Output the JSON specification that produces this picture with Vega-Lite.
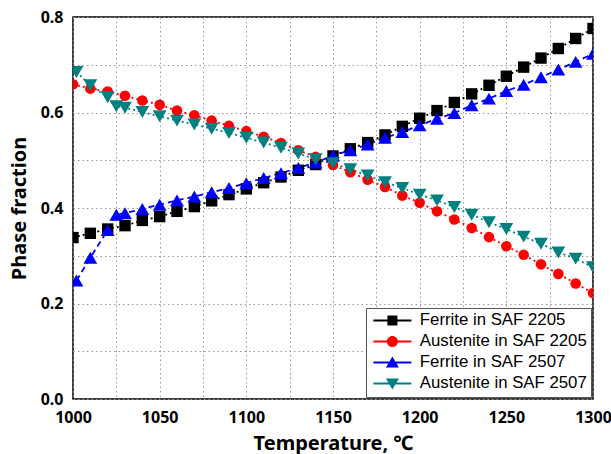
{
 "$schema": "https://vega.github.io/schema/vega-lite/v6.json",
 "width": 520, "height": 382,
 "autosize": {"type": "none"},
 "padding": {"left": 73, "top": 17, "right": 18, "bottom": 55},
 "background": "white",
 "config": {"view": {"stroke": "#000", "strokeWidth": 1.5}},
 "datasets": {
  "d": [
   {"s":"Ferrite in SAF 2205","T":1000,"v":0.338},{"s":"Ferrite in SAF 2205","T":1010,"v":0.347},{"s":"Ferrite in SAF 2205","T":1020,"v":0.356},{"s":"Ferrite in SAF 2205","T":1030,"v":0.363},{"s":"Ferrite in SAF 2205","T":1040,"v":0.374},{"s":"Ferrite in SAF 2205","T":1050,"v":0.382},{"s":"Ferrite in SAF 2205","T":1060,"v":0.393},{"s":"Ferrite in SAF 2205","T":1070,"v":0.403},{"s":"Ferrite in SAF 2205","T":1080,"v":0.415},{"s":"Ferrite in SAF 2205","T":1090,"v":0.428},{"s":"Ferrite in SAF 2205","T":1100,"v":0.440},{"s":"Ferrite in SAF 2205","T":1110,"v":0.453},{"s":"Ferrite in SAF 2205","T":1120,"v":0.465},{"s":"Ferrite in SAF 2205","T":1130,"v":0.479},{"s":"Ferrite in SAF 2205","T":1140,"v":0.491},{"s":"Ferrite in SAF 2205","T":1150,"v":0.509},{"s":"Ferrite in SAF 2205","T":1160,"v":0.524},{"s":"Ferrite in SAF 2205","T":1170,"v":0.537},{"s":"Ferrite in SAF 2205","T":1180,"v":0.553},{"s":"Ferrite in SAF 2205","T":1190,"v":0.571},{"s":"Ferrite in SAF 2205","T":1200,"v":0.588},{"s":"Ferrite in SAF 2205","T":1210,"v":0.604},{"s":"Ferrite in SAF 2205","T":1220,"v":0.621},{"s":"Ferrite in SAF 2205","T":1230,"v":0.639},{"s":"Ferrite in SAF 2205","T":1240,"v":0.657},{"s":"Ferrite in SAF 2205","T":1250,"v":0.676},{"s":"Ferrite in SAF 2205","T":1260,"v":0.695},{"s":"Ferrite in SAF 2205","T":1270,"v":0.714},{"s":"Ferrite in SAF 2205","T":1280,"v":0.734},{"s":"Ferrite in SAF 2205","T":1290,"v":0.755},{"s":"Ferrite in SAF 2205","T":1300,"v":0.776},
   {"s":"Austenite in SAF 2205","T":1000,"v":0.659},{"s":"Austenite in SAF 2205","T":1010,"v":0.650},{"s":"Austenite in SAF 2205","T":1020,"v":0.644},{"s":"Austenite in SAF 2205","T":1030,"v":0.635},{"s":"Austenite in SAF 2205","T":1040,"v":0.625},{"s":"Austenite in SAF 2205","T":1050,"v":0.616},{"s":"Austenite in SAF 2205","T":1060,"v":0.604},{"s":"Austenite in SAF 2205","T":1070,"v":0.594},{"s":"Austenite in SAF 2205","T":1080,"v":0.583},{"s":"Austenite in SAF 2205","T":1090,"v":0.572},{"s":"Austenite in SAF 2205","T":1100,"v":0.561},{"s":"Austenite in SAF 2205","T":1110,"v":0.549},{"s":"Austenite in SAF 2205","T":1120,"v":0.536},{"s":"Austenite in SAF 2205","T":1130,"v":0.521},{"s":"Austenite in SAF 2205","T":1140,"v":0.507},{"s":"Austenite in SAF 2205","T":1150,"v":0.490},{"s":"Austenite in SAF 2205","T":1160,"v":0.475},{"s":"Austenite in SAF 2205","T":1170,"v":0.459},{"s":"Austenite in SAF 2205","T":1180,"v":0.444},{"s":"Austenite in SAF 2205","T":1190,"v":0.426},{"s":"Austenite in SAF 2205","T":1200,"v":0.411},{"s":"Austenite in SAF 2205","T":1210,"v":0.393},{"s":"Austenite in SAF 2205","T":1220,"v":0.376},{"s":"Austenite in SAF 2205","T":1230,"v":0.358},{"s":"Austenite in SAF 2205","T":1240,"v":0.339},{"s":"Austenite in SAF 2205","T":1250,"v":0.320},{"s":"Austenite in SAF 2205","T":1260,"v":0.302},{"s":"Austenite in SAF 2205","T":1270,"v":0.282},{"s":"Austenite in SAF 2205","T":1280,"v":0.262},{"s":"Austenite in SAF 2205","T":1290,"v":0.242},{"s":"Austenite in SAF 2205","T":1300,"v":0.222},
   {"s":"Ferrite in SAF 2507","T":1002,"v":0.248},{"s":"Ferrite in SAF 2507","T":1010,"v":0.296},{"s":"Ferrite in SAF 2507","T":1020,"v":0.354},{"s":"Ferrite in SAF 2507","T":1025,"v":0.386},{"s":"Ferrite in SAF 2507","T":1030,"v":0.389},{"s":"Ferrite in SAF 2507","T":1040,"v":0.398},{"s":"Ferrite in SAF 2507","T":1050,"v":0.407},{"s":"Ferrite in SAF 2507","T":1060,"v":0.416},{"s":"Ferrite in SAF 2507","T":1070,"v":0.424},{"s":"Ferrite in SAF 2507","T":1080,"v":0.433},{"s":"Ferrite in SAF 2507","T":1090,"v":0.442},{"s":"Ferrite in SAF 2507","T":1100,"v":0.452},{"s":"Ferrite in SAF 2507","T":1110,"v":0.463},{"s":"Ferrite in SAF 2507","T":1120,"v":0.473},{"s":"Ferrite in SAF 2507","T":1130,"v":0.484},{"s":"Ferrite in SAF 2507","T":1140,"v":0.495},{"s":"Ferrite in SAF 2507","T":1150,"v":0.510},{"s":"Ferrite in SAF 2507","T":1160,"v":0.521},{"s":"Ferrite in SAF 2507","T":1170,"v":0.533},{"s":"Ferrite in SAF 2507","T":1180,"v":0.547},{"s":"Ferrite in SAF 2507","T":1190,"v":0.559},{"s":"Ferrite in SAF 2507","T":1200,"v":0.573},{"s":"Ferrite in SAF 2507","T":1210,"v":0.587},{"s":"Ferrite in SAF 2507","T":1220,"v":0.599},{"s":"Ferrite in SAF 2507","T":1230,"v":0.615},{"s":"Ferrite in SAF 2507","T":1240,"v":0.629},{"s":"Ferrite in SAF 2507","T":1250,"v":0.645},{"s":"Ferrite in SAF 2507","T":1260,"v":0.658},{"s":"Ferrite in SAF 2507","T":1270,"v":0.674},{"s":"Ferrite in SAF 2507","T":1280,"v":0.690},{"s":"Ferrite in SAF 2507","T":1290,"v":0.706},{"s":"Ferrite in SAF 2507","T":1300,"v":0.723},
   {"s":"Austenite in SAF 2507","T":1002,"v":0.685},{"s":"Austenite in SAF 2507","T":1010,"v":0.657},{"s":"Austenite in SAF 2507","T":1020,"v":0.632},{"s":"Austenite in SAF 2507","T":1025,"v":0.613},{"s":"Austenite in SAF 2507","T":1030,"v":0.610},{"s":"Austenite in SAF 2507","T":1040,"v":0.601},{"s":"Austenite in SAF 2507","T":1050,"v":0.592},{"s":"Austenite in SAF 2507","T":1060,"v":0.583},{"s":"Austenite in SAF 2507","T":1070,"v":0.575},{"s":"Austenite in SAF 2507","T":1080,"v":0.566},{"s":"Austenite in SAF 2507","T":1090,"v":0.557},{"s":"Austenite in SAF 2507","T":1100,"v":0.547},{"s":"Austenite in SAF 2507","T":1110,"v":0.537},{"s":"Austenite in SAF 2507","T":1120,"v":0.526},{"s":"Austenite in SAF 2507","T":1130,"v":0.514},{"s":"Austenite in SAF 2507","T":1140,"v":0.502},{"s":"Austenite in SAF 2507","T":1150,"v":0.494},{"s":"Austenite in SAF 2507","T":1160,"v":0.481},{"s":"Austenite in SAF 2507","T":1170,"v":0.468},{"s":"Austenite in SAF 2507","T":1180,"v":0.454},{"s":"Austenite in SAF 2507","T":1190,"v":0.442},{"s":"Austenite in SAF 2507","T":1200,"v":0.428},{"s":"Austenite in SAF 2507","T":1210,"v":0.416},{"s":"Austenite in SAF 2507","T":1220,"v":0.402},{"s":"Austenite in SAF 2507","T":1230,"v":0.386},{"s":"Austenite in SAF 2507","T":1240,"v":0.370},{"s":"Austenite in SAF 2507","T":1250,"v":0.356},{"s":"Austenite in SAF 2507","T":1260,"v":0.340},{"s":"Austenite in SAF 2507","T":1270,"v":0.325},{"s":"Austenite in SAF 2507","T":1280,"v":0.307},{"s":"Austenite in SAF 2507","T":1290,"v":0.294},{"s":"Austenite in SAF 2507","T":1300,"v":0.276}
  ]
 },
 "data": {"name": "d"},
 "encoding": {
  "x": {"field": "T", "type": "quantitative",
   "scale": {"domain": [1000, 1300], "nice": false, "zero": false},
   "axis": {"values": [1000,1025,1050,1075,1100,1125,1150,1175,1200,1225,1250,1275,1300],
    "labelExpr": "datum.value % 50 === 0 ? format(datum.value, 'd') : ''",
    "ticks": false, "domain": false, "grid": true, "gridColor": "#999", "gridDash": [1.5, 3], "gridWidth": 1,
    "labelFont": "Noto Sans", "labelFontWeight": "bold", "labelFontSize": 16, "labelColor": "#000", "labelPadding": 10,
    "labelFlush": false, "labelOverlap": false,
    "title": "Temperature, ℃", "titleFont": "Noto Sans", "titleFontSize": 20, "titleFontWeight": "bold", "titleColor": "#000", "titlePadding": 8}},
  "y": {"field": "v", "type": "quantitative",
   "scale": {"domain": [0, 0.8], "nice": false},
   "axis": {"values": [0,0.1,0.2,0.3,0.4,0.5,0.6,0.7,0.8],
    "labelExpr": "round(datum.value*10) % 2 === 0 ? format(datum.value, '.1f') : ''",
    "ticks": false, "domain": false, "grid": true, "gridColor": "#999", "gridDash": [1.5, 3], "gridWidth": 1,
    "labelFont": "Noto Sans", "labelFontWeight": "bold", "labelFontSize": 16, "labelColor": "#000", "labelPadding": 10,
    "labelFlush": false, "labelOverlap": false,
    "title": "Phase fraction", "titleFont": "Noto Sans", "titleFontSize": 20, "titleFontWeight": "bold", "titleColor": "#000", "titlePadding": 11}},
  "color": {"field": "s", "type": "nominal",
   "scale": {"domain": ["Ferrite in SAF 2205","Austenite in SAF 2205","Ferrite in SAF 2507","Austenite in SAF 2507"],
             "range": ["#000000","#ff0000","#0000ff","#008080"]},
   "legend": {"title": null, "orient": "bottom-right", "offset": 2, "padding": 4,
    "strokeColor": "#555", "fillColor": "white", "cornerRadius": 0,
    "labelFont": "Liberation Sans", "labelFontSize": 16.8, "labelColor": "#000", "labelLimit": 300,
    "symbolSize": 100, "symbolOffset": 14, "labelOffset": 19, "rowPadding": 3, "symbolStrokeWidth": 0,
    "encode": {"symbols": {"update": {
      "shape": {"signal": "datum.value === 'Ferrite in SAF 2205' ? 'M-3.8,-0.2H3.8V0.2H-3.8Z M-1,-1H1V1H-1Z' : datum.value === 'Austenite in SAF 2205' ? 'M-3.8,-0.2H3.8V0.2H-3.8Z M-1.1,0A1.1,1.1 0 1,1 1.1,0A1.1,1.1 0 1,1 -1.1,0Z' : datum.value === 'Ferrite in SAF 2507' ? 'M-3.8,-0.2H3.8V0.2H-3.8Z M0,-1.2L1.3,1L-1.3,1Z' : 'M-3.8,-0.2H3.8V0.2H-3.8Z M-1.3,-1L1.3,-1L0,1.2Z'"},
      "size": {"value": 100},
      "fill": {"scale": "color", "field": "value"},
      "fillOpacity": {"value": 1},
      "strokeWidth": {"value": 0}
    }}}
   }
  }
 },
 "layer": [
  {"transform": [{"filter": "datum.s !== 'Ferrite in SAF 2507'"}],
   "mark": {"type": "line", "strokeWidth": 1.8, "strokeDash": [2, 3], "clip": true}},
  {"transform": [{"filter": "datum.s === 'Ferrite in SAF 2507'"}],
   "mark": {"type": "line", "strokeWidth": 1.8, "strokeDash": [6, 4], "clip": true}},
  {"transform": [{"filter": "datum.s === 'Ferrite in SAF 2205'"}],
   "mark": {"type": "point", "filled": true, "opacity": 1, "shape": "square", "size": 130, "clip": true}},
  {"transform": [{"filter": "datum.s === 'Austenite in SAF 2205'"}],
   "mark": {"type": "point", "filled": true, "opacity": 1, "shape": "circle", "size": 112, "clip": true}},
  {"transform": [{"filter": "datum.s === 'Ferrite in SAF 2507'"}],
   "mark": {"type": "point", "filled": true, "opacity": 1, "shape": "triangle-up", "size": 190, "clip": true}},
  {"transform": [{"filter": "datum.s === 'Austenite in SAF 2507'"}],
   "mark": {"type": "point", "filled": true, "opacity": 1, "shape": "triangle-down", "size": 190, "clip": true}}
 ]
}
